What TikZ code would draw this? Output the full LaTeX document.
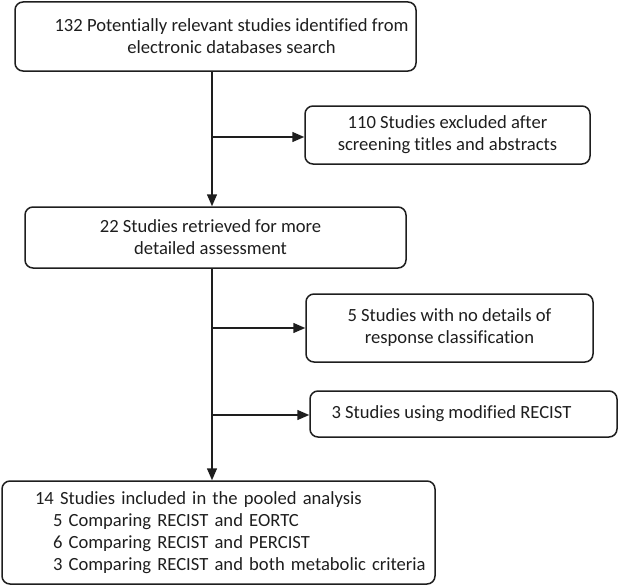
\documentclass[tikz,border=0pt]{standalone}
\usepackage{fontspec}
\setmainfont[Ligatures=NoCommon]{Carlito}
\usetikzlibrary{arrows.meta}
\definecolor{ink}{HTML}{1E1E1E}
\begin{document}
\begin{tikzpicture}[x=1pt,y=-1pt,
  box/.style={draw=ink, text=ink, line width=1.5pt, rounded corners=8pt, inner sep=0pt, align=center, font=\fontsize{18.6}{22}\selectfont},
  arr/.style={draw=ink, line width=1.5pt, -{Triangle[length=12pt,width=10pt]}}]
\useasboundingbox (0,0) rectangle (618,586);
\node[box, minimum width=401pt, minimum height=69pt] (b1) at (215.5,36.5)
  {\hspace*{32pt}132 Potentially relevant studies identified from\\\hspace*{32pt}electronic databases search};
\node[box, minimum width=285pt, minimum height=58pt] (b2) at (447.5,135)
  {110 Studies excluded after\\screening titles and abstracts};
\node[box, minimum width=381pt, minimum height=61pt] (b3) at (215.5,237.5)
  {22 Studies retrieved for more\hspace*{10pt}\\detailed assessment\hspace*{10pt}};
\node[box, minimum width=287pt, minimum height=68pt] (b4) at (449.5,328)
  {5 Studies with no details of\\response classification};
\node[box, minimum width=307pt, minimum height=46pt] (b5) at (463.5,414)
  {3 Studies using modified RECIST\hspace*{24pt}};
\node[box, minimum width=433pt, minimum height=103pt, align=left, text width=433pt, inner xsep=0pt] (b6) at (218.5,532.5)
  {\hspace*{33pt}14 Studies included in the pooled analysis\\
   \hspace*{51pt}5 Comparing RECIST and EORTC\\
   \hspace*{51pt}6 Comparing RECIST and PERCIST\\
   \hspace*{51pt}3 Comparing RECIST and both metabolic criteria};
\coordinate (s1) at (212,137);
\coordinate (s2) at (212,328);
\coordinate (s3) at (212,415);
\draw[arr] (b1.south -| s1) -- (b3.north -| s1);
\draw[arr] (b3.south -| s1) -- (b6.north -| s1);
\draw[arr] (s1) -- (b2.west |- s1);
\draw[arr] (s2) -- (b4.west |- s2);
\draw[arr] (s3) -- (b5.west |- s3);
\end{tikzpicture}
\end{document}
